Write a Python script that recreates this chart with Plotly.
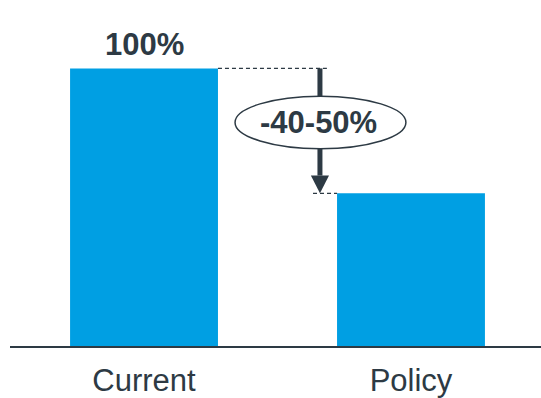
import plotly.graph_objects as go

categories = ["Current", "Policy"]
values = [100, 55]
value_labels = ["100%", ""]
change_label = "-40-50%"

BAR = "#009FE3"
DARK = "#2D3A44"
FONT = "Arial, Liberation Sans, sans-serif"

x = [0, 1]
bar_w = 0.554

fig = go.Figure()
fig.add_trace(go.Bar(x=x, y=values, width=bar_w, marker=dict(color=BAR, line=dict(width=0)),
                     hoverinfo="skip"))

cur, pol = values
xa = 0.659          # arrow position between bars
head_w = 0.034
head_h = 6.4

shapes = [
    dict(type="line", x0=x[0] + bar_w / 2, x1=0.685, y0=cur, y1=cur,
         line=dict(color=DARK, width=1.2, dash="4px,3px")),
    dict(type="line", x0=0.633, x1=x[1] - bar_w / 2, y0=pol, y1=pol,
         line=dict(color=DARK, width=1.2, dash="4px,3px")),
    dict(type="line", x0=xa, x1=xa, y0=cur, y1=pol + head_h,
         line=dict(color=DARK, width=5)),
    dict(type="path",
         path=f"M {xa-head_w},{pol+head_h} L {xa+head_w},{pol+head_h} L {xa},{pol} Z",
         fillcolor=DARK, line=dict(color=DARK, width=0)),
    dict(type="circle", x0=0.341, x1=0.981, y0=71.1, y1=90,
         fillcolor="white", line=dict(color=DARK, width=1.5)),
]

annotations = [
    dict(x=x[0], y=cur, text=f"<b>{value_labels[0]}</b>", showarrow=False,
         yanchor="middle", yshift=24, font=dict(family=FONT, size=31, color=DARK)),
    dict(x=0.652, y=80.4, text=f"<b>{change_label}</b>", showarrow=False,
         yanchor="middle", xanchor="center", font=dict(family=FONT, size=31, color=DARK)),
]

fig.update_layout(
    width=541, height=398,
    margin=dict(l=10, r=0, t=0, b=49),
    paper_bgcolor="white", plot_bgcolor="white",
    showlegend=False,
    shapes=shapes, annotations=annotations,
    xaxis=dict(range=[-0.502, 1.487], tickvals=x, ticktext=categories,
               showgrid=False, zeroline=False, showline=True, linecolor=DARK, linewidth=2,
               ticks="", tickfont=dict(family=FONT, size=31, color=DARK),
               ticklabelstandoff=6, fixedrange=True),
    yaxis=dict(range=[0, 124.64], visible=False, fixedrange=True),
)

fig.write_html("out.html")
